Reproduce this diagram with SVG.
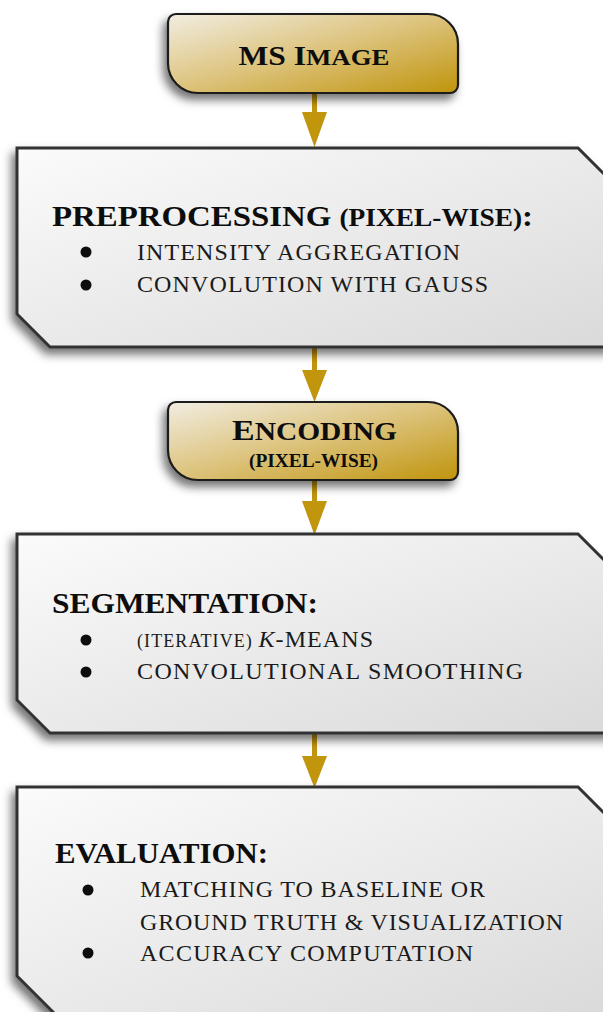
<svg xmlns="http://www.w3.org/2000/svg" width="603" height="1012" viewBox="0 0 603 1012">
<defs>
<linearGradient id="gold" x1="0" y1="0" x2="1" y2="1">
<stop offset="0" stop-color="#f1ede2"/>
<stop offset="0.5" stop-color="#dcc27a"/>
<stop offset="1" stop-color="#c0940c"/>
</linearGradient>
<linearGradient id="grey" x1="0" y1="0" x2="1" y2="1">
<stop offset="0" stop-color="#fbfbfb"/>
<stop offset="1" stop-color="#d9d9d9"/>
</linearGradient>
<filter id="sh" x="-20%" y="-20%" width="140%" height="150%">
<feDropShadow dx="-4" dy="6" stdDeviation="5" flood-color="#000" flood-opacity="0.55"/>
</filter>
</defs>
<style>
.gbox{fill:url(#gold);stroke:#1a1a1a;stroke-width:2.2;filter:url(#sh)}
.box{fill:url(#grey);stroke:#333;stroke-width:3;filter:url(#sh)}
.arr{fill:#c1950c}
.t{font-family:"Liberation Serif","DejaVu Serif",serif;font-weight:bold;fill:#0d0d0d}
.b{font-family:"Liberation Serif","DejaVu Serif",serif;font-size:24px;fill:#1a1a1a}
.dot{fill:#0d0d0d}
</style>
<rect width="603" height="1012" fill="#ffffff"/>
<g id="connectors">
<rect class="arr" x="312" y="92" width="5" height="21"/>
<polygon class="arr" points="302,112 327,112 314.5,147"/>
<rect class="arr" x="312" y="348" width="5" height="23"/>
<polygon class="arr" points="302,370 327,370 314.5,402"/>
<rect class="arr" x="312" y="479" width="5" height="23"/>
<polygon class="arr" points="302,501 327,501 314.5,535"/>
<rect class="arr" x="312" y="734" width="5" height="23"/>
<polygon class="arr" points="302,756 327,756 314.5,788"/>
</g>
<g id="ms-image">
<path class="gbox" d="M178,14 H428 A30,30 0 0 1 458,44 V85 A8,8 0 0 1 450,93 H198 A30,30 0 0 1 168,63 V22 A8,8 0 0 1 176,14 Z"/>
<text class="t" x="314" y="65" text-anchor="middle" textLength="151" lengthAdjust="spacingAndGlyphs"><tspan font-size="27">MS I</tspan><tspan font-size="23">MAGE</tspan></text>
</g>
<g id="preprocessing">
<path class="box" d="M17,148 H578 L640,210 V347 H50 L17,314 Z"/>
<text class="t" x="52" y="226" textLength="481" lengthAdjust="spacingAndGlyphs"><tspan font-size="30">PREPROCESSING </tspan><tspan font-size="25">(PIXEL-WISE)</tspan><tspan font-size="30">:</tspan></text>
<circle class="dot" cx="86" cy="252" r="5.5"/>
<circle class="dot" cx="86" cy="285" r="5.5"/>
<text class="b" x="137" y="260" textLength="323" lengthAdjust="spacing">INTENSITY AGGREGATION</text>
<text class="b" x="137" y="292" textLength="351" lengthAdjust="spacing">CONVOLUTION WITH GAUSS</text>
</g>
<g id="encoding">
<path class="gbox" d="M178,402 H428 A30,30 0 0 1 458,432 V472 A8,8 0 0 1 450,480 H198 A30,30 0 0 1 168,450 V410 A8,8 0 0 1 176,402 Z"/>
<text class="t" x="314.5" y="440" text-anchor="middle" textLength="165" lengthAdjust="spacingAndGlyphs"><tspan font-size="30">E</tspan><tspan font-size="26">NCODING</tspan></text>
<text class="t" x="313.5" y="467" text-anchor="middle" font-size="18" textLength="129" lengthAdjust="spacingAndGlyphs">(PIXEL-WISE)</text>
</g>
<g id="segmentation">
<path class="box" d="M17,534 H578 L640,596 V733 H50 L17,700 Z"/>
<text class="t" x="52" y="613" font-size="30" textLength="266" lengthAdjust="spacingAndGlyphs">SEGMENTATION:</text>
<circle class="dot" cx="86" cy="640" r="5.5"/>
<circle class="dot" cx="86" cy="672" r="5.5"/>
<text class="b" x="137" y="647" textLength="236" lengthAdjust="spacing"><tspan font-size="18">(ITERATIVE) </tspan><tspan font-style="italic">K</tspan>-MEANS</text>
<text class="b" x="137" y="679" textLength="386" lengthAdjust="spacing">CONVOLUTIONAL SMOOTHING</text>
</g>
<g id="evaluation">
<path class="box" d="M17,787 H578 L640,849 V1016 H57 L17,976 Z"/>
<text class="t" x="55" y="863" font-size="30" textLength="213" lengthAdjust="spacingAndGlyphs">EVALUATION:</text>
<circle class="dot" cx="88" cy="890" r="5.5"/>
<circle class="dot" cx="88" cy="953" r="5.5"/>
<text class="b" x="140" y="897" textLength="345" lengthAdjust="spacing">MATCHING TO BASELINE OR</text>
<text class="b" x="140" y="930" textLength="423" lengthAdjust="spacing">GROUND TRUTH &amp; VISUALIZATION</text>
<text class="b" x="140" y="961" textLength="333" lengthAdjust="spacing">ACCURACY COMPUTATION</text>
</g>
</svg>
